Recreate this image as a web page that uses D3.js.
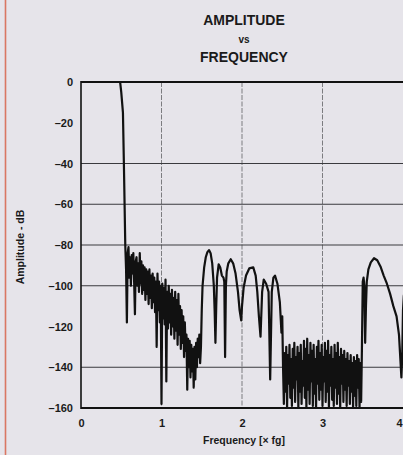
<!DOCTYPE html>
<html>
<head>
<meta charset="utf-8">
<script src="https://cdn.jsdelivr.net/npm/d3@7"></script>
<style>
  html, body { margin: 0; padding: 0; background: #e6e4ea; }
  svg { display: block; }
  text { font-family: "Liberation Sans", Arial, sans-serif; font-weight: bold; fill: #1a1a1a; }
</style>
</head>
<body>
<svg id="chart" width="403" height="455"></svg>
<script>
// Frequency in multiples of fg, amplitude in dB
const passband = [[0, 0], [0.48, 0], [0.4875, -0.5], [0.5, -5], [0.521, -15], [0.535, -45], [0.55, -80]];

const stopbandNoiseLow = [
  [0.55, -80], [0.56, -92], [0.57, -118], [0.58, -84], [0.59, -81], [0.60, -96], [0.61, -86], [0.62, -100],
  [0.63, -85], [0.64, -94], [0.65, -84], [0.66, -98], [0.67, -114], [0.68, -88], [0.69, -86], [0.70, -100],
  [0.71, -89], [0.72, -103], [0.73, -84], [0.74, -99], [0.75, -88], [0.76, -104], [0.77, -90], [0.78, -102],
  [0.79, -91], [0.80, -107], [0.81, -92], [0.82, -104], [0.83, -93], [0.84, -109], [0.85, -92], [0.86, -106],
  [0.87, -95], [0.88, -111], [0.89, -94], [0.90, -108], [0.91, -96], [0.92, -113], [0.93, -98], [0.94, -130],
  [0.95, -94], [0.96, -112], [0.97, -98], [0.98, -118], [0.99, -100], [1.00, -158], [1.01, -99], [1.02, -116],
  [1.03, -101], [1.04, -119], [1.05, -97], [1.06, -147], [1.07, -103], [1.08, -121], [1.09, -100], [1.10, -118],
  [1.11, -104], [1.12, -124], [1.13, -102], [1.14, -120], [1.15, -106], [1.16, -126], [1.17, -103], [1.18, -122],
  [1.19, -107], [1.20, -129], [1.21, -104], [1.22, -124], [1.23, -110], [1.24, -131], [1.25, -112], [1.26, -128],
  [1.27, -115], [1.28, -135], [1.29, -118], [1.30, -132], [1.31, -124], [1.32, -151], [1.33, -126], [1.34, -140],
  [1.35, -127], [1.36, -145], [1.37, -129], [1.38, -142], [1.39, -131], [1.40, -150], [1.41, -130], [1.42, -146],
  [1.43, -128], [1.44, -140], [1.45, -126], [1.46, -135], [1.47, -124], [1.48, -138], [1.49, -130]
];

const sideLobes = [
  [1.50, -112], [1.51, -100], [1.53, -91], [1.55, -86], [1.57, -83.5], [1.59, -82.5], [1.61, -84], [1.63, -89],
  [1.65, -100], [1.66, -112], [1.67, -128], [1.68, -110], [1.69, -96], [1.71, -89.5], [1.73, -91], [1.75, -95],
  [1.77, -96], [1.78, -98], [1.79, -135], [1.80, -100], [1.81, -93], [1.83, -89], [1.86, -87], [1.89, -89],
  [1.92, -94], [1.95, -103], [1.97, -112], [1.99, -117], [2.00, -110], [2.02, -101], [2.05, -95], [2.09, -91.5],
  [2.14, -91], [2.17, -95], [2.19, -103], [2.21, -115], [2.23, -125], [2.25, -103], [2.27, -97], [2.30, -99],
  [2.33, -103], [2.35, -146], [2.37, -103], [2.39, -96], [2.41, -95], [2.44, -99], [2.47, -108], [2.49, -123],
  [2.50, -115], [2.51, -140]
];

const stopbandNoiseHigh = [
  [2.52, -158], [2.53, -133], [2.54, -152], [2.55, -130], [2.56, -160], [2.57, -134], [2.58, -148], [2.59, -129],
  [2.60, -155], [2.61, -136], [2.62, -159], [2.63, -131], [2.64, -150], [2.65, -128], [2.66, -157], [2.67, -135],
  [2.68, -146], [2.69, -130], [2.70, -160], [2.71, -133], [2.72, -152], [2.73, -129], [2.74, -158], [2.75, -137],
  [2.76, -149], [2.77, -127], [2.78, -155], [2.79, -131], [2.80, -160], [2.81, -126], [2.82, -151], [2.83, -134],
  [2.84, -158], [2.85, -128], [2.86, -147], [2.87, -132], [2.88, -159], [2.89, -129], [2.90, -153], [2.91, -136],
  [2.92, -160], [2.93, -130], [2.94, -148], [2.95, -127], [2.96, -156], [2.97, -133], [2.98, -151], [2.99, -129],
  [3.00, -159], [3.01, -135], [3.02, -147], [3.03, -128], [3.04, -157], [3.05, -132], [3.06, -152], [3.07, -127],
  [3.08, -160], [3.09, -134], [3.10, -149], [3.11, -130], [3.12, -156], [3.13, -136], [3.14, -159], [3.15, -129],
  [3.16, -150], [3.17, -133], [3.18, -158], [3.19, -128], [3.20, -153], [3.21, -135], [3.22, -160], [3.23, -131],
  [3.24, -148], [3.25, -134], [3.26, -157], [3.27, -132], [3.28, -151], [3.29, -136], [3.30, -159], [3.31, -133],
  [3.32, -149], [3.33, -137], [3.34, -158], [3.35, -134], [3.36, -152], [3.37, -138], [3.38, -160], [3.39, -135],
  [3.40, -154], [3.41, -137], [3.42, -159], [3.43, -134], [3.44, -150], [3.45, -136], [3.46, -160], [3.47, -138],
  [3.48, -157]
];

const imageLobe = [
  [3.49, -130], [3.50, -98], [3.51, -96], [3.52, -100], [3.53, -128], [3.54, -110], [3.55, -98], [3.57, -92],
  [3.60, -88.5], [3.64, -86.5], [3.68, -87.5], [3.72, -90.5], [3.76, -95], [3.80, -99], [3.84, -104], [3.88, -110],
  [3.92, -115], [3.95, -124], [3.97, -138], [3.98, -145], [3.99, -135], [4.00, -112], [4.01, -105], [4.02, -103]
];

const xTicks = [0, 1, 2, 3, 4];
const yTicks = [0, -20, -40, -60, -80, -100, -120, -140, -160];
const yTickLabels = ["0", "\u201320", "\u201340", "\u201360", "\u201380", "\u2013100", "\u2013120", "\u2013140", "\u2013160"];
const xGrid = [1, 2, 3];
const yGrid = [-40, -60, -80, -100, -140];

const svg = d3.select("#chart");
const W = 403, H = 455;
const plot = { left: 81, right: 403, top: 82, bottom: 408 };

const x = d3.scaleLinear().domain([0, 4]).range([plot.left, plot.right]);
const y = d3.scaleLinear().domain([0, -160]).range([plot.top, plot.bottom]);

svg.append("rect").attr("width", W).attr("height", H).attr("fill", "#e6e4ea");

// page edge line at the left
svg.append("line")
  .attr("x1", 5.5).attr("x2", 5.5).attr("y1", 0).attr("y2", H)
  .attr("stroke", "#d8644c").attr("stroke-width", 1.6).attr("opacity", 0.85);

// title
const title = svg.append("g").attr("text-anchor", "middle");
title.append("text").attr("x", 244).attr("y", 25).attr("font-size", 14).text("AMPLITUDE");
title.append("text").attr("x", 244).attr("y", 43).attr("font-size", 10).text("vs");
title.append("text").attr("x", 244).attr("y", 62).attr("font-size", 14).text("FREQUENCY");

// grid
const grid = svg.append("g");
grid.selectAll("line.v").data(xGrid).join("line")
  .attr("x1", d => x(d)).attr("x2", d => x(d))
  .attr("y1", plot.top).attr("y2", plot.bottom)
  .attr("stroke", "#7c7c80").attr("stroke-width", 1).attr("stroke-dasharray", "5 1.5");
grid.selectAll("line.h").data(yGrid).join("line")
  .attr("x1", plot.left).attr("x2", plot.right)
  .attr("y1", d => y(d)).attr("y2", d => y(d))
  .attr("stroke", "#3a3a3e").attr("stroke-width", 1.1);

// axes labels via d3 axes
const yAxis = d3.axisLeft(y).tickValues(yTicks).tickSize(0).tickPadding(8)
  .tickFormat((d, i) => yTickLabels[i]);
const gy = svg.append("g").attr("transform", `translate(${plot.left},0)`).call(yAxis);
gy.select(".domain").remove();
gy.selectAll("text").attr("font-size", 11).attr("font-family", null).attr("fill", "#1a1a1a");

const xAxis = d3.axisBottom(x).tickValues(xTicks).tickSize(0).tickPadding(11).tickFormat(d3.format("d"));
const gx = svg.append("g").attr("transform", `translate(0,${plot.bottom})`).call(xAxis);
gx.select(".domain").remove();
gx.selectAll("text").attr("font-size", 11).attr("font-family", null).attr("fill", "#1a1a1a");
// last label sits at the page edge; keep it inside
gx.selectAll(".tick").filter(d => d === 4).select("text").attr("text-anchor", "end").attr("dx", -1);

// frame
svg.append("line").attr("x1", plot.left).attr("x2", plot.right).attr("y1", plot.top).attr("y2", plot.top)
  .attr("stroke", "#111").attr("stroke-width", 2);
svg.append("line").attr("x1", plot.left).attr("x2", plot.right).attr("y1", plot.bottom).attr("y2", plot.bottom)
  .attr("stroke", "#111").attr("stroke-width", 2);
svg.append("line").attr("x1", plot.left).attr("x2", plot.left).attr("y1", plot.top - 1).attr("y2", plot.bottom + 1)
  .attr("stroke", "#111").attr("stroke-width", 1.6);

// response curve
svg.append("clipPath").attr("id", "plotClip").append("rect")
  .attr("x", plot.left).attr("y", plot.top - 2).attr("width", plot.right - plot.left).attr("height", plot.bottom - plot.top + 3);

const response = [].concat(passband, stopbandNoiseLow.slice(1), sideLobes, stopbandNoiseHigh, imageLobe);
const line = d3.line().x(d => x(d[0])).y(d => y(d[1]));
svg.append("path")
  .attr("clip-path", "url(#plotClip)")
  .attr("d", line(response))
  .attr("fill", "none").attr("stroke", "#111").attr("stroke-width", 2.2).attr("stroke-linejoin", "round");

// axis titles
svg.append("text").attr("x", 244).attr("y", 444).attr("text-anchor", "middle").attr("font-size", 10.5)
  .text("Frequency [\u00d7 fg]");
svg.append("text").attr("transform", "translate(24,247) rotate(-90)").attr("text-anchor", "middle")
  .attr("font-size", 10.5).text("Amplitude - dB");
</script>
</body>
</html>
